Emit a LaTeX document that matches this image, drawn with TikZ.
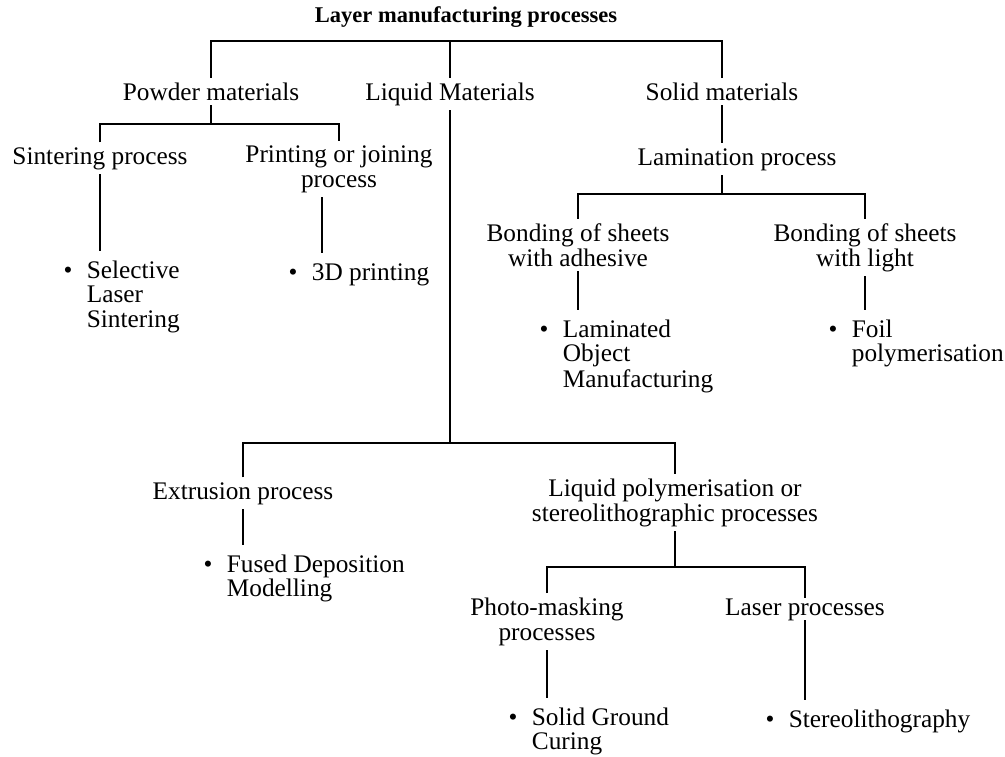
\documentclass[tikz,border=0pt]{standalone}
\usepackage{fontspec}
\setmainfont{Liberation Serif}
\usetikzlibrary{positioning}

\newcommand{\leafitem}[1]{\textbullet\hspace{0.36cm}\begin{tabular}[t]{@{}l@{}}#1\end{tabular}}

\tikzset{
  lbl/.style={font=\fontsize{18}{17.5}\selectfont, align=center, inner sep=0pt, outer xsep=0pt, outer ysep=0.12cm, anchor=base},
  leaf/.style={font=\fontsize{18}{17.5}\selectfont, inner sep=0pt, outer xsep=0pt, outer ysep=0.24cm, anchor=base west},
  conn/.style={line width=1.3pt},
}

\begin{document}
\begin{tikzpicture}[x=0.025cm, y=-0.025cm]
  \useasboundingbox (0,0) rectangle (1005,756);

  % Heading
  \node[font=\bfseries\fontsize{16}{18}\selectfont, inner sep=0pt, anchor=base] (lmp) at (466,22) {Layer manufacturing processes};

  % === Material groups ===
  \node[lbl] (powder) at (211,100) {Powder materials};
  \node[lbl] (liquid) at (450,100) {Liquid Materials};
  \node[lbl] (solid) at (722,100) {Solid materials};

  \coordinate (j0) at (450,41);
  \draw[conn] (powder.north) -- (powder.north |- j0) -- (solid.north |- j0) -- (solid.north);
  \draw[conn] (liquid.north) -- (liquid.north |- j0);

  % === Powder materials ===
  % (multi-line nodes sit on the baseline of their last line)
  \node[lbl] (sinter) at (100,164) {Sintering process};
  \node[lbl] (printj) at (339,187) {Printing or joining\\process};

  \coordinate (j1) at (211,124);
  \draw[conn] (powder.south) -- (j1);
  \draw[conn] (sinter.north) |- (j1) -| (printj.north);

  \node[leaf] (sls) at (63.6,278) {\leafitem{Selective\\Laser\\Sintering}};
  \node[leaf] (p3d) at (288.6,280) {\leafitem{3D printing}};

  \coordinate (j3d) at (322,0);
  \draw[conn] (sinter.south) -- (sinter.south |- sls.north);
  \draw[conn] (j3d |- printj.south) -- (j3d |- p3d.north);

  % === Solid materials ===
  \node[lbl] (lam) at (737,165) {Lamination process};
  \draw[conn] (solid.south) -- (solid.south |- lam.north);

  \node[lbl] (bonda) at (578,266) {Bonding of sheets\\with adhesive};
  \node[lbl] (bondl) at (865,266) {Bonding of sheets\\with light};

  \coordinate (j5) at (722,194);
  \draw[conn] (lam.south -| j5) -- (j5);
  \draw[conn] (bonda.north) |- (j5) -| (bondl.north);

  \node[leaf] (lom) at (539.6,337) {\leafitem{Laminated\\Object\\Manufacturing}};
  \node[leaf] (foil) at (828.6,337) {\leafitem{Foil\\polymerisation}};

  \draw[conn] (bonda.south) -- (bonda.south |- lom.north);
  \draw[conn] (bondl.south) -- (bondl.south |- foil.north);

  % === Liquid materials ===
  \node[lbl] (extr) at (243,499) {Extrusion process};
  \node[lbl] (lpoly) at (675,521) {Liquid polymerisation or\\stereolithographic processes};

  \coordinate (j2) at (450,443);
  \draw[conn] (liquid.south) -- (j2);
  \draw[conn] (extr.north) |- (j2) -| (lpoly.north);

  \node[leaf] (fdm) at (203.6,572) {\leafitem{Fused Deposition\\Modelling}};
  \draw[conn] (extr.south) -- (extr.south |- fdm.north);

  \node[lbl] (photo) at (547,640) {Photo-masking\\processes};
  \node[lbl, outer ysep=0pt] (laser) at (805,615) {Laser processes};

  \coordinate (j4) at (675,567);
  \draw[conn] (lpoly.south) -- (j4);
  \draw[conn] (photo.north) |- (j4) -| (laser.north);

  \node[leaf] (sgc) at (508.6,725) {\leafitem{Solid Ground\\Curing}};
  \node[leaf] (stereo) at (765.6,727) {\leafitem{Stereolithography}};

  \draw[conn] (photo.south) -- (photo.south |- sgc.north);
  \draw[conn] (laser.south) -- (laser.south |- stereo.north);
\end{tikzpicture}
\end{document}
